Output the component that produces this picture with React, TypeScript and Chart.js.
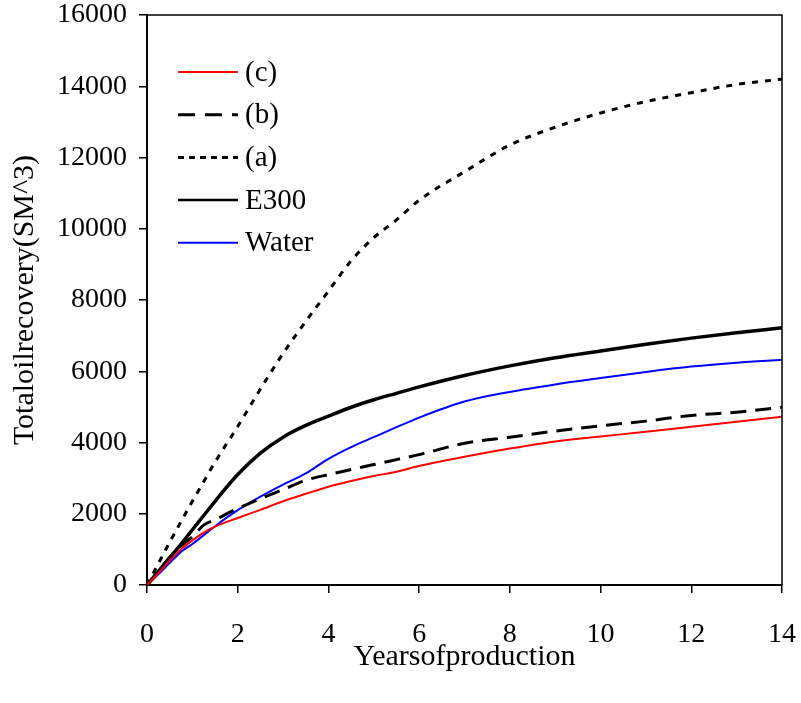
import React, { useEffect, useRef } from "react";
import { Chart, registerables } from "chart.js";

Chart.register(...registerables);

const years = [0, 0.25, 0.5, 0.75, 1, 1.25, 1.5, 2, 2.5, 3, 3.5, 4, 4.5, 5, 5.5, 6, 7, 8, 9, 10, 11, 12, 13, 14];

const seriesC = [0, 330, 680, 1000, 1250, 1470, 1640, 1880, 2110, 2350, 2560, 2760, 2920, 3060, 3180, 3340, 3600, 3830, 4030, 4170, 4300, 4440, 4580, 4720];
const seriesB = [0, 380, 780, 1100, 1350, 1680, 1830, 2150, 2420, 2680, 2940, 3100, 3240, 3380, 3520, 3660, 3980, 4150, 4320, 4470, 4600, 4760, 4850, 4990];
const seriesA = [0, 600, 1200, 1780, 2350, 2900, 3450, 4450, 5500, 6500, 7400, 8250, 9100, 9750, 10250, 10800, 11600, 12350, 12850, 13250, 13570, 13820, 14050, 14200];
const seriesE300 = [0, 380, 760, 1150, 1550, 1950, 2350, 3100, 3700, 4150, 4480, 4740, 4990, 5200, 5380, 5560, 5880, 6150, 6380, 6570, 6760, 6930, 7080, 7220];
const seriesWater = [0, 300, 620, 930, 1150, 1400, 1650, 2100, 2480, 2820, 3130, 3540, 3870, 4150, 4430, 4700, 5150, 5420, 5630, 5810, 5980, 6130, 6240, 6320];

const labels = ["(c)", "(b)", "(a)", "E300", "Water"];
const xTitle = "Yearsofproduction";
const yTitle = "Totaloilrecovery(SM^3)";

const FONT = "'Liberation Serif', 'Times New Roman', serif";

const toPts = (vals: number[]) => vals.map((v, i) => ({ x: years[i], y: v }));

const frameAndLegend = {
  id: "frameAndLegend",
  afterDraw(chart: any) {
    const { ctx, chartArea } = chart;
    ctx.save();
    ctx.strokeStyle = "#000";
    ctx.lineWidth = 1.5;
    ctx.beginPath();
    ctx.moveTo(chartArea.left, chartArea.top);
    ctx.lineTo(chartArea.right, chartArea.top);
    ctx.lineTo(chartArea.right, chartArea.bottom);
    ctx.stroke();

    // legend
    const x0 = chartArea.left + 31;
    const x1 = chartArea.left + 91;
    const tx = chartArea.left + 98;
    let y = chartArea.top + 57;
    const step = 42.7;
    ctx.font = `29px ${FONT}`;
    ctx.textBaseline = "middle";
    ctx.fillStyle = "#000";
    chart.data.datasets.forEach((ds: any) => {
      ctx.beginPath();
      ctx.strokeStyle = ds.borderColor;
      ctx.lineWidth = ds.legendWidth || ds.borderWidth;
      ctx.setLineDash(ds.legendDash || []);
      ctx.moveTo(x0, y);
      ctx.lineTo(x1, y);
      ctx.stroke();
      ctx.setLineDash([]);
      ctx.fillText(ds.label, tx, y + 1);
      y += step;
    });
    ctx.restore();
  },
};

export default function App() {
  const ref = useRef<HTMLCanvasElement>(null);
  useEffect(() => {
    if (!ref.current) return;
    const common = { pointRadius: 0, cubicInterpolationMode: "monotone" };
    const chart = new Chart(ref.current, {
      type: "line",
      data: {
        datasets: [
          { ...common, label: labels[0], data: toPts(seriesC), borderColor: "#ff0000", borderWidth: 2 } as any,
          { ...common, label: labels[1], data: toPts(seriesB), borderColor: "#000", borderWidth: 3, borderDash: [16, 9], legendDash: [17, 10] } as any,
          { ...common, label: labels[2], data: toPts(seriesA), borderColor: "#000", borderWidth: 3, borderDash: [6, 7], legendDash: [6, 5] } as any,
          { ...common, label: labels[3], data: toPts(seriesE300), borderColor: "#000", borderWidth: 3.5, legendWidth: 2.5 } as any,
          { ...common, label: labels[4], data: toPts(seriesWater), borderColor: "#0000ff", borderWidth: 2 } as any,
        ],
      },
      options: {
        animation: false,
        responsive: false,
        events: [],
        layout: { padding: { top: 15, right: 19, left: 0, bottom: 0 } },
        plugins: { legend: { display: false }, tooltip: { enabled: false } },
        scales: {
          x: {
            type: "linear",
            min: 0,
            max: 14,
            ticks: { stepSize: 2, color: "#000", font: { family: FONT, size: 28 }, padding: 25, maxRotation: 0 },
            grid: { drawOnChartArea: false, drawTicks: true, tickLength: 8, color: "#000", lineWidth: 1.5 },
            border: { display: true, color: "#000", width: 2 },
            title: { display: true, text: xTitle, color: "#000", font: { family: FONT, size: 30 }, padding: { top: 0, bottom: 28 } },
            afterFit: (s: any) => { s.height = 118; s.paddingLeft = 0; s.paddingRight = 0; },
          },
          y: {
            min: 0,
            max: 16000,
            ticks: { stepSize: 2000, color: "#000", font: { family: FONT, size: 28 }, padding: 12, callback: (v: any) => String(v) },
            grid: { drawOnChartArea: false, drawTicks: true, tickLength: 8, color: "#000", lineWidth: 1.5 },
            border: { display: true, color: "#000", width: 2 },
            title: { display: true, text: yTitle, color: "#000", font: { family: FONT, size: 30 }, padding: { top: 7, bottom: 0 } },
            afterFit: (s: any) => { s.width = 147; s.paddingTop = 0; s.paddingBottom = 0; },
          },
        },
      },
      plugins: [frameAndLegend],
    });
    return () => chart.destroy();
  }, []);
  return (
    <div style={{ position: "fixed", left: 0, top: 0, width: 801, height: 703, background: "#fff" }}>
      <canvas ref={ref} width={801} height={703} style={{ display: "block" }} />
    </div>
  );
}
